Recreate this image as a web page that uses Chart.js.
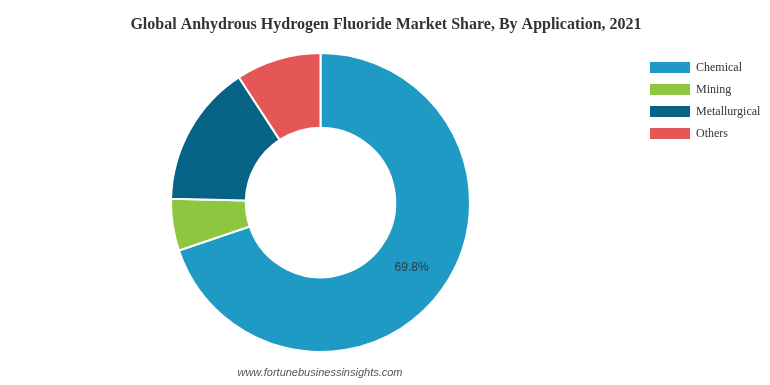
<!DOCTYPE html>
<html>
<head>
<meta charset="utf-8">
<script src="https://cdn.jsdelivr.net/npm/chart.js@4.4.1/dist/chart.umd.min.js"></script>
<style>
  html, body { margin: 0; padding: 0; background: #ffffff; }
  #wrap { position: relative; width: 770px; height: 385px; }
</style>
</head>
<body>
<div id="wrap"><canvas id="c" width="770" height="385"></canvas></div>
<script>
const chartTitle = "Global Anhydrous Hydrogen Fluoride Market Share, By Application, 2021";
const categories = ["Chemical", "Mining", "Metallurgical", "Others"];
const shares = [69.8, 5.6, 15.4, 9.2];
const sliceColors = ["#1e9ac4", "#8dc63f", "#066386", "#e55757"];
const shownLabels = ["69.8%", "", "", ""];
const sourceText = "www.fortunebusinessinsights.com";

const overlay = {
  id: "overlay",
  afterDraw(chart) {
    const ctx = chart.ctx;
    ctx.save();
    // title
    ctx.fillStyle = "#333333";
    ctx.font = "bold 16px 'Liberation Serif', 'Times New Roman', serif";
    ctx.textAlign = "center";
    ctx.textBaseline = "middle";
    ctx.fillText(chartTitle, 386, 25);

    // legend
    ctx.font = "12px 'Liberation Serif', 'Times New Roman', serif";
    ctx.textAlign = "left";
    categories.forEach((name, i) => {
      const y = 62 + i * 22;
      ctx.fillStyle = sliceColors[i];
      ctx.fillRect(650, y, 40, 11);
      ctx.fillStyle = "#333333";
      ctx.fillText(name, 696, y + 5.5);
    });

    // slice labels
    const meta = chart.getDatasetMeta(0);
    ctx.font = "12px 'Liberation Sans', Arial, sans-serif";
    ctx.textAlign = "center";
    ctx.fillStyle = "#2e3b44";
    meta.data.forEach((arc, i) => {
      if (!shownLabels[i]) return;
      const p = arc.tooltipPosition();
      ctx.fillText(shownLabels[i], p.x, p.y);
    });

    // source
    ctx.font = "italic 11px 'Liberation Sans', Arial, sans-serif";
    ctx.fillStyle = "#555555";
    ctx.fillText(sourceText, 320, 373);
    ctx.restore();
  }
};

new Chart(document.getElementById("c"), {
  type: "doughnut",
  data: {
    labels: categories,
    datasets: [{
      data: shares,
      backgroundColor: sliceColors,
      borderColor: "#ffffff",
      borderWidth: 2
    }]
  },
  options: {
    responsive: false,
    animation: false,
    cutout: "50%",
    layout: { padding: { top: 52, bottom: 32, left: 170, right: 299 } },
    plugins: {
      legend: { display: false },
      title: { display: false },
      tooltip: { enabled: false }
    }
  },
  plugins: [overlay]
});
</script>
</body>
</html>
